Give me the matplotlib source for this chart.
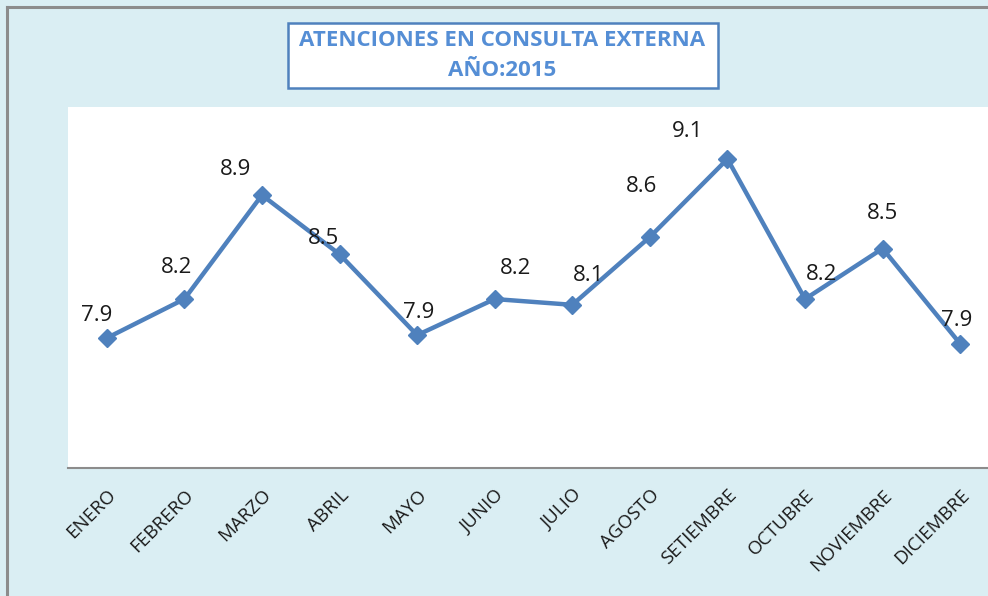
import matplotlib.pyplot as plt
from matplotlib.patches import Rectangle
from matplotlib.lines import Line2D

meses = ["ENERO", "FEBRERO", "MARZO", "ABRIL", "MAYO", "JUNIO", "JULIO",
         "AGOSTO", "SETIEMBRE", "OCTUBRE", "NOVIEMBRE", "DICIEMBRE"]
atenciones = [7.90, 8.17, 8.89, 8.48, 7.92, 8.17, 8.13, 8.60, 9.14, 8.17, 8.52, 7.86]

# desplazamiento de las etiquetas (pixeles)
etiq_dx = [-10, -8, -26, -16, 2, 21, 16, -8, -40, 17, 0, -4]
etiq_dy = [23, 32, 26, 16, 23, 31, 29, 50, 27, 25, 35, 23]

fondo = "#DAEEF3"
azul = "#4F81BD"

fig = plt.figure(figsize=(9.88, 5.96), dpi=100, facecolor=fondo)

# marco exterior
fig.add_artist(Line2D([7/988, 7/988], [0, 1 - 7/596], color="#8C8C8C", lw=2.2,
                      transform=fig.transFigure))
fig.add_artist(Line2D([7/988, 1], [1 - 7/596, 1 - 7/596], color="#8C8C8C", lw=2.2,
                      transform=fig.transFigure))

ax = fig.add_axes([68/988, 1 - 468/596, 931/988, 361/596])
ax.set_facecolor("white")

x = list(range(len(meses)))
ax.plot(x, atenciones, color=azul, lw=3.2, marker="D", markersize=9.5, zorder=3)

for i, v in enumerate(atenciones):
    ax.annotate(f"{v:.1f}", (i, v), xytext=(etiq_dx[i] * 0.72, etiq_dy[i] * 0.72),
                textcoords="offset points", ha="center", va="center",
                fontsize=16, family="Open Sans", color="#1a1a1a")

ax.set_xlim(-0.5, len(meses) - 0.5)
ax.set_ylim(7, 9.5)
ax.set_yticks([])
ax.set_xticks(x)
ax.set_xticklabels(meses, rotation=45, ha="right", rotation_mode="anchor",
                   fontsize=13.5, family="Open Sans", color="#1a1a1a")
ax.tick_params(axis="x", length=0, pad=13)
for s in ["top", "right", "left"]:
    ax.spines[s].set_visible(False)
ax.spines["bottom"].set_color("#8C8C8C")
ax.spines["bottom"].set_linewidth(1.5)

# cuadro del titulo
fig.add_artist(Rectangle((288/988, 1 - 88/596), 430/988, 65/596, transform=fig.transFigure,
                         facecolor="white", edgecolor=azul, lw=1.8))
fig.text(502/988, 1 - 41/596, "ATENCIONES EN CONSULTA EXTERNA", ha="center", va="center",
         fontsize=16, fontweight="bold", family="Open Sans", color="#558ED5")
fig.text(502/988, 1 - 70/596, "AÑO:2015", ha="center", va="center",
         fontsize=16, fontweight="bold", family="Open Sans", color="#558ED5")

fig.savefig("out.png", dpi=100, facecolor=fondo)
